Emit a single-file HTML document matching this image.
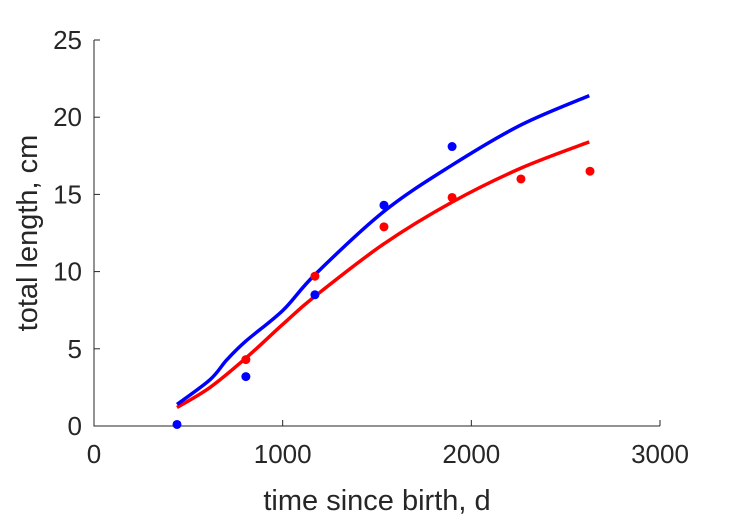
<!DOCTYPE html>
<html><head><meta charset="utf-8"><style>
body{margin:0;background:#fff}
svg{display:block;font-family:"Liberation Sans",sans-serif}
</style></head><body>
<svg id="chart" width="729" height="521"></svg>
<script>
const tickX=[0,1000,2000,3000];
const tickY=[0,5,10,15,20,25];
const blueObsT=[440,805,1171,1537,1898];
const blueObsL=[0.1,3.2,8.5,14.3,18.1];
const redObsT=[805,1171,1537,1898,2263,2629];
const redObsL=[4.3,9.7,12.9,14.8,16.0,16.5];
const blueFitT=[440,615,705,805,1002,1171,1537,1898,2263,2625];
const blueFitL=[1.4,3.0,4.3,5.5,7.5,9.8,13.9,16.9,19.5,21.4];
const redFitT=[440,615,805,1002,1171,1537,1898,2263,2625];
const redFitL=[1.2,2.5,4.4,6.6,8.4,11.8,14.5,16.7,18.4];
const X0=94,X1=660,Y0=426,Y1=40;
const sx=v=>X0+(v-0)/3000*(X1-X0);
const sy=v=>Y0-(v-0)/25*(Y0-Y1);
const svg=document.getElementById('chart');
const NS='http://www.w3.org/2000/svg';
function mk(tag,attrs,parent){const e=document.createElementNS(NS,tag);for(const k in attrs)e.setAttribute(k,attrs[k]);(parent||svg).appendChild(e);return e;}
let ax=mk('path',{d:`M${X0},${Y1}V${Y0}H${X1}`,stroke:'#262626','stroke-width':1,fill:'none'});


tickX.forEach(v=>{
  const t=mk('line',{x1:sx(v),x2:sx(v),y1:Y0,y2:Y0-6,stroke:'#262626'});
  
  
  const l=mk('text',{x:sx(v),y:Y0+37,'text-anchor':'middle','font-size':26,fill:'#262626'});
  l.textContent=v;
  
  
});
tickY.forEach(v=>{
  const t=mk('line',{x1:X0,x2:X0+6,y1:sy(v),y2:sy(v),stroke:'#262626'});
  
  
  const l=mk('text',{x:X0-12,y:sy(v)+9,'text-anchor':'end','font-size':26,fill:'#262626'});
  l.textContent=v;
  
  
});
function curve(T,L){
  const p=T.map((t,i)=>[sx(t),sy(L[i])]);
  let d=`M${p[0][0]},${p[0][1]}`;
  for(let i=0;i<p.length-1;i++){
    const a=p[Math.max(i-1,0)],b=p[i],c=p[i+1],e=p[Math.min(i+2,p.length-1)];
    d+=`C${b[0]+(c[0]-a[0])/6},${b[1]+(c[1]-a[1])/6} ${c[0]-(e[0]-b[0])/6},${c[1]-(e[1]-b[1])/6} ${c[0]},${c[1]}`;
  }
  return d;
}
let rf=mk('path',{d:curve(redFitT,redFitL),stroke:'#ff0000','stroke-width':3.5,fill:'none'});


let bf=mk('path',{d:curve(blueFitT,blueFitL),stroke:'#0000ff','stroke-width':3.5,fill:'none'});


redObsT.forEach((t,i)=>{
  const c=mk('circle',{cx:sx(t),cy:sy(redObsL[i]),r:4.5,fill:'#ff0000'});
  
  
});
blueObsT.forEach((t,i)=>{
  const c=mk('circle',{cx:sx(t),cy:sy(blueObsL[i]),r:4.5,fill:'#0000ff'});
  
  
});
let xt=mk('text',{x:377,y:510,'text-anchor':'middle','font-size':29,fill:'#262626'});
xt.textContent='time since birth, d';


let yt=mk('text',{x:0,y:0,'text-anchor':'middle','font-size':29,fill:'#262626',transform:'translate(37,233) rotate(-90)'});
yt.textContent='total length, cm';


</script>
</body></html>
